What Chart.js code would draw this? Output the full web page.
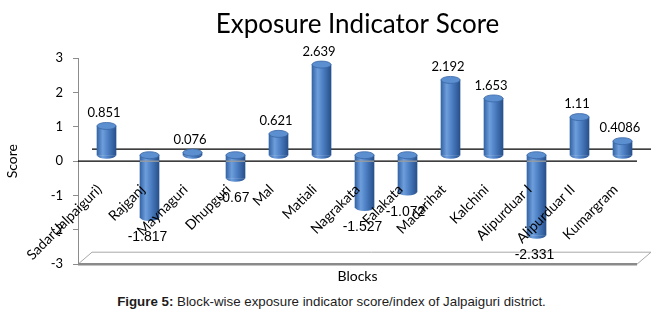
<!DOCTYPE html>
<html>
<head>
<meta charset="utf-8">
<script src="https://cdn.jsdelivr.net/npm/chart.js@4.4.1/dist/chart.umd.min.js"></script>
<style>
  html, body { margin: 0; padding: 0; background: #fff; }
  #wrap { position: relative; width: 663px; height: 315px; }
  #chart { position: absolute; left: 0; top: 0; }
  #caption { position: absolute; left: 0; top: 294px; width: 663px; text-align: center;
             font: 13.3px "Liberation Sans", Arial, sans-serif; color: #1c1c1c; }
</style>
</head>
<body>
<div id="wrap">
  <canvas id="chart" width="663" height="290"></canvas>
  <div id="caption"><b>Figure 5:</b> Block-wise exposure indicator score/index of Jalpaiguri district.</div>
</div>
<script>
// --- DATA ---
const BLOCKS = ['Sadar(Jalpaiguri)', 'Rajganj', 'Maynaguri', 'Dhupguri', 'Mal', 'Matiali',
                'Nagrakata', 'Falakata', 'Madarihat', 'Kalchini', 'Alipurduar I', 'Alipurduar II', 'Kumargram'];
const SCORES = [0.851, -1.817, 0.076, -0.67, 0.621, 2.639, -1.527, -1.072, 2.192, 1.653, -2.331, 1.11, 0.4086];
const Y_TICKS = [-3, -2, -1, 0, 1, 2, 3];

// --- 3D LOOK ---
const DX = 14, DY = 12;        // depth of the floor / zero plane (px)
const BAR_SHIFT_Y = 0.175;     // bars sit half way back in the depth (in score units)
const BAR_SHIFT_X = 0.163;     // same, along x (in category units)
const BAR_W = 19;
const FONT = 'Lato, "Open Sans", sans-serif';

function barGradient(ctx, x, w) {
    if (!isFinite(x)) return '#4a7cc0';
    const g = ctx.createLinearGradient(x - w / 2, 0, x + w / 2, 0);
    g.addColorStop(0, '#3565a6');
    g.addColorStop(0.3, '#6e9edb');
    g.addColorStop(0.55, '#4f82c6');
    g.addColorStop(1, '#27508c');
    return g;
}

const cylinderPlugin = {
    id: 'cylinders',
    beforeDatasetsDraw(chart) {
        const { ctx, chartArea: a, scales } = chart;
        const y0 = scales.y.getPixelForValue(0);
        const yb = scales.y.getPixelForValue(-3);
        ctx.save();
        // floor
        ctx.beginPath();
        ctx.moveTo(a.left, yb);
        ctx.lineTo(a.left + DX, yb - DY);
        ctx.lineTo(a.right + DX, yb - DY);
        ctx.lineTo(a.right, yb);
        ctx.closePath();
        ctx.fillStyle = '#fff';
        ctx.fill();
        ctx.strokeStyle = '#a8a8a8';
        ctx.lineWidth = 1;
        ctx.stroke();
        ctx.beginPath();
        ctx.moveTo(a.left, yb);
        ctx.lineTo(a.right, yb);
        ctx.strokeStyle = '#8a8a8a';
        ctx.lineWidth = 2.5;
        ctx.stroke();
        // zero plane (back and front edges)
        ctx.strokeStyle = '#000';
        ctx.lineWidth = 1.3;
        ctx.beginPath();
        ctx.moveTo(a.left + DX, y0 - DY);
        ctx.lineTo(a.right + DX, y0 - DY);
        ctx.moveTo(a.left, y0);
        ctx.lineTo(a.right, y0);
        ctx.stroke();
        ctx.restore();
    },
    afterDatasetsDraw(chart) {
        const { ctx, scales } = chart;
        const meta = chart.getDatasetMeta(0);
        const y0 = scales.y.getPixelForValue(0);
        ctx.save();
        meta.data.forEach((bar, i) => {
            const w = bar.width;
            const top = Math.min(bar.y, bar.base);
            const bottom = Math.max(bar.y, bar.base);
            const ry = 3.5;
            // rounded bottom
            ctx.beginPath();
            ctx.ellipse(bar.x, bottom, w / 2, ry, 0, 0, Math.PI);
            ctx.fillStyle = barGradient(ctx, bar.x, w);
            ctx.fill();
            // front edge of the zero plane seen through the bar
            if (SCORES[i] < 0) {
                ctx.beginPath();
                ctx.moveTo(bar.x - w / 2, y0);
                ctx.lineTo(bar.x + w / 2, y0);
                ctx.strokeStyle = '#9c9c9c';
                ctx.lineWidth = 1.3;
                ctx.stroke();
            }
            // top cap
            ctx.beginPath();
            ctx.ellipse(bar.x, top, w / 2, ry, 0, 0, Math.PI * 2);
            ctx.fillStyle = '#5c8fd0';
            ctx.fill();
            ctx.strokeStyle = '#3a67a6';
            ctx.lineWidth = 0.8;
            ctx.stroke();
        });

        // category labels, rotated, sitting under the zero plane
        ctx.fillStyle = '#000';
        ctx.font = '14px ' + FONT;
        ctx.textAlign = 'right';
        ctx.textBaseline = 'middle';
        meta.data.forEach((bar, i) => {
            ctx.save();
            ctx.translate(bar.x - 7, y0 + 26);
            ctx.rotate(-Math.PI / 4);
            ctx.fillText(BLOCKS[i], 0, 0);
            ctx.restore();
        });

        // value labels
        ctx.textAlign = 'center';
        meta.data.forEach((bar, i) => {
            const v = SCORES[i];
            if (v >= 0) {
                ctx.font = '13px ' + FONT;
                ctx.fillText(String(v), bar.x - 2.5, bar.y - 13);
            } else {
                ctx.font = '14px "Liberation Sans", Arial, sans-serif';
                ctx.fillText(String(v), bar.x - 2, bar.y + 20);
            }
        });
        ctx.restore();
    }
};

new Chart(document.getElementById('chart'), {
    type: 'bar',
    data: {
        datasets: [{
            data: SCORES.map((v, i) => ({ x: i, y: v })),
            yAxisID: 'yBar',
            barThickness: BAR_W,
            borderWidth: 0,
            backgroundColor: c => {
                const sx = c.chart.scales && c.chart.scales.x;
                if (!sx || !c.chart.chartArea) return '#4a7cc0';
                return barGradient(c.chart.ctx, sx.getPixelForValue(c.dataIndex), BAR_W);
            }
        }]
    },
    options: {
        responsive: false,
        animation: false,
        layout: { padding: { left: 0, right: 26, top: 0, bottom: 1 } },
        plugins: {
            legend: { display: false },
            tooltip: { enabled: false },
            title: {
                display: true,
                fullSize: false,
                text: 'Exposure Indicator Score',
                color: '#000',
                font: { family: FONT, size: 26, weight: 'normal' },
                padding: { top: 9, bottom: 18 }
            }
        },
        scales: {
            x: {
                type: 'linear',
                offset: false,
                min: -0.5 - BAR_SHIFT_X,
                max: BLOCKS.length - 0.5 - BAR_SHIFT_X,
                grid: { display: false, drawTicks: false },
                border: { display: false },
                ticks: { display: false },
                title: { display: true, text: 'Blocks', color: '#000',
                         font: { family: FONT, size: 14 }, padding: { top: 4, bottom: 4 } }
            },
            y: {
                position: 'left',
                min: -3,
                max: 3,
                afterBuildTicks: s => { s.ticks = Y_TICKS.map(v => ({ value: v })); },
                afterFit: s => { s.width = 78; },
                ticks: { color: '#000', font: { family: FONT, size: 13 }, padding: 10 },
                grid: { drawOnChartArea: false, tickLength: 5, color: '#8c8c8c' },
                border: { color: '#8c8c8c', width: 1 },
                title: { display: true, text: 'Score', color: '#000', font: { family: FONT, size: 14 } }
            },
            yBar: {
                display: false,
                min: -3 - BAR_SHIFT_Y,
                max: 3 - BAR_SHIFT_Y
            }
        }
    },
    plugins: [cylinderPlugin]
});
</script>
</body>
</html>
